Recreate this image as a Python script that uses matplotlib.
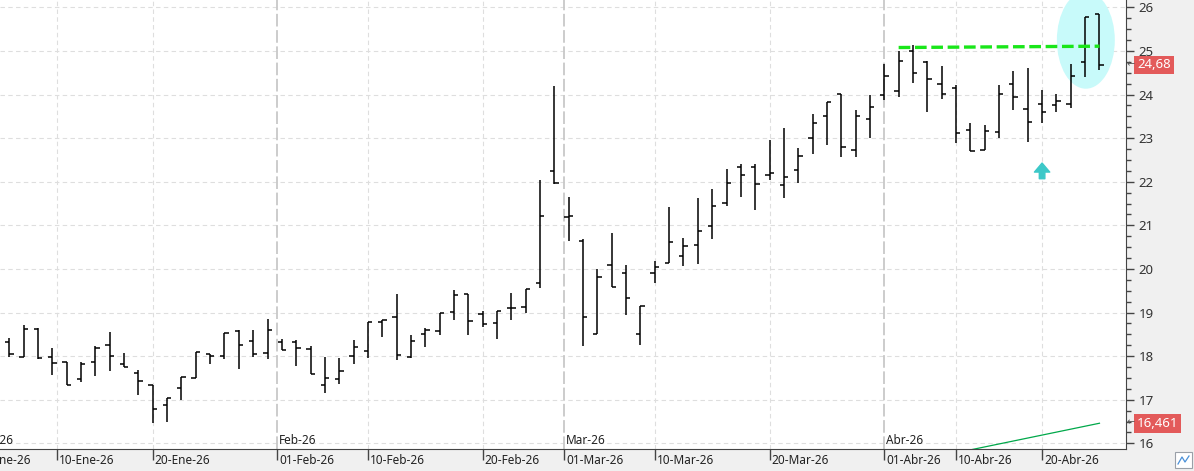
import numpy as np
import matplotlib
matplotlib.use("Agg")
import matplotlib.pyplot as plt
from matplotlib.patches import Ellipse, Rectangle
from matplotlib.lines import Line2D
import matplotlib.transforms as mtransforms

plt.rcParams['font.family'] = ['Noto Sans', 'DejaVu Sans']

# daily OHLC, one bar per trading day (06-Ene-26 .. 24-Abr-26)
opens = [18.32, 17.97, 18.62, 17.97, 17.87, 17.47, 17.87, 18.26, 17.81, 17.61,
         17.33, 16.89, 17.26, 17.49, 18.05, 18.00, 18.58, 18.34, 18.07, 18.32,
         18.33, 18.17, 17.33, 17.47, 18.00, 18.11, 18.78, 18.90, 17.98, 18.50,
         18.57, 19.01, 19.42, 18.96, 18.75, 19.11, 19.13, 19.68, 22.24, 21.20,
         20.64, 18.50, 20.09, 19.91, 18.50, 19.91, 20.14, 20.30, 20.55, 20.99,
         21.52, 22.35, 22.35, 22.15, 21.92, 22.26, 23.00, 23.50, 24.01, 22.73,
         23.45, 24.00, 24.09, 24.99, 24.74, 24.25, 24.14, 23.19, 22.73, 23.15,
         24.25, 23.68, 23.79, 23.75, 23.79, 24.75, 25.84]
highs = [18.42, 18.72, 18.64, 18.19, 17.87, 17.87, 18.23, 18.56, 18.07, 17.68,
         17.33, 17.05, 17.53, 18.10, 18.05, 18.52, 18.59, 18.60, 18.85, 18.39,
         18.37, 18.23, 17.98, 17.95, 18.37, 18.78, 18.83, 19.42, 18.48, 18.64,
         18.98, 19.52, 19.42, 19.04, 19.03, 19.45, 19.53, 22.05, 24.20, 21.65,
         20.69, 20.01, 20.82, 20.10, 19.15, 20.19, 21.42, 20.72, 21.62, 21.83,
         22.29, 22.41, 22.40, 22.96, 23.23, 22.77, 23.55, 23.82, 24.01, 23.64,
         23.99, 24.70, 25.00, 25.14, 24.78, 24.65, 24.23, 23.35, 23.31, 24.23,
         24.55, 24.60, 24.10, 24.02, 24.70, 25.79, 25.84]
lows = [17.97, 17.97, 17.93, 17.57, 17.34, 17.41, 17.55, 17.67, 17.74, 17.11,
        16.47, 16.49, 16.99, 17.49, 17.81, 17.93, 17.71, 17.97, 17.94, 18.13,
        17.78, 17.58, 17.16, 17.35, 17.81, 17.95, 18.45, 17.92, 17.96, 18.22,
        18.49, 18.84, 18.49, 18.66, 18.40, 18.84, 18.98, 19.56, 21.96, 20.64,
        18.24, 18.50, 19.58, 18.95, 18.26, 19.67, 20.14, 20.06, 20.11, 20.68,
        21.45, 21.66, 21.36, 22.05, 21.63, 21.98, 22.64, 22.85, 22.57, 22.57,
        23.01, 23.88, 23.95, 24.27, 23.60, 23.90, 22.88, 22.71, 22.73, 23.00,
        23.65, 22.91, 23.34, 23.60, 23.69, 24.41, 24.56]
closes = [18.05, 18.63, 17.96, 17.84, 17.34, 17.82, 18.19, 18.00, 17.76, 17.43,
          16.79, 17.03, 17.52, 18.10, 18.00, 18.52, 18.25, 18.05, 18.59, 18.13,
          18.18, 17.58, 17.49, 17.67, 18.20, 18.78, 18.83, 18.02, 18.34, 18.59,
          18.98, 19.40, 18.80, 18.73, 19.03, 19.11, 19.53, 21.22, 21.98, 21.22,
          18.90, 19.82, 19.58, 19.34, 19.15, 20.05, 20.63, 20.53, 20.86, 21.45,
          21.98, 22.15, 21.94, 22.19, 22.12, 22.60, 23.35, 23.82, 22.79, 23.50,
          23.71, 24.42, 24.78, 24.49, 24.35, 24.02, 23.12, 22.71, 23.17, 24.02,
          23.95, 23.38, 23.61, 23.86, 24.42, 25.77, 24.68]

# date axis (positions in trading-day units, calendar-interpolated)
tick_pos = [-2.5, 3.33, 10, 18.67, 25, 33, 38.67, 45, 53, 61, 66, 72]
tick_labels = ['01-Ene-26', '10-Ene-26', '20-Ene-26', '01-Feb-26', '10-Feb-26',
               '20-Feb-26', '01-Mar-26', '10-Mar-26', '20-Mar-26', '01-Abr-26',
               '10-Abr-26', '20-Abr-26']
month_pos = [-2.5, 18.67, 38.67, 61]
month_labels = ['Ene-26', 'Feb-26', 'Mar-26', 'Abr-26']

# drawings
resist_x = [62, 76]
resist_y = [25.08, 25.11]
trend_x = [67, 76]
trend_y = [15.85, 16.461]
signal_bar = 72
signal_from, signal_to = 22.07, 22.43
last_close = 24.68
trend_last = 16.461

W, H = 1194, 471
fig = plt.figure(figsize=(W / 100, H / 100), dpi=100, facecolor='#f0f0f0')
ax = fig.add_axes([0, 22 / H, 1126 / W, 449 / H])
ax.set_facecolor('white')

x = np.arange(len(opens))
tw = 0.3
ax.vlines(x, lows, highs, color='black', lw=1.1, zorder=3)
ax.hlines(opens, x - tw, x, color='black', lw=1.1, zorder=3)
ax.hlines(closes, x, x + tw, color='black', lw=1.1, zorder=3)

# grid
for p in range(16, 27):
    ax.axhline(p, color='#dedede', lw=0.8, ls=(0, (4, 3)), zorder=0)
for p in tick_pos:
    if p in month_pos:
        ax.axvline(p, color='#c8c8c8', lw=1.3, ls=(0, (7, 2)), zorder=0)
    else:
        ax.axvline(p, color='#dedede', lw=0.8, ls=(0, (4, 3)), zorder=0)

# highlight ellipse, resistance, trendline, signal arrow
ax.add_patch(Ellipse((75.05, 25.25), 4.04, 2.23, facecolor='#c8fafa',
                     edgecolor='none', zorder=1))
ax.plot(resist_x, resist_y, color='#19e619', lw=2.4, ls=(0, (3.5, 1.4)), zorder=4)
ax.plot(trend_x, trend_y, color='#00a84a', lw=0.9, zorder=4)
ax.annotate('', xy=(signal_bar, signal_to), xytext=(signal_bar, signal_from),
            arrowprops=dict(arrowstyle='simple,head_width=1.1,head_length=0.65,tail_width=0.4',
                            color='#3cc8c8', shrinkA=0, shrinkB=0, mutation_scale=10),
            zorder=5)

# axes look
for s in ['top', 'left']:
    ax.spines[s].set_visible(False)
ax.spines['bottom'].set_color('#444444')
ax.spines['right'].set_color('#444444')
ax.yaxis.tick_right()
ax.set_yticks(range(16, 27))
ax.set_yticks(np.arange(15.75, 26.2, 0.25), minor=True)
ax.tick_params(axis='y', which='major', length=6, width=1, color='#444444',
               labelcolor='#333333', labelsize=9.5, pad=3)
ax.tick_params(axis='y', which='minor', length=3.5, width=1, color='#444444')
ax.set_xticks(tick_pos)
ax.set_xticklabels([])
ax.tick_params(axis='x', length=8, width=1, color='#444444')

ax.set_xlim(-0.65, 77.85)
ax.set_ylim(15.87, 26.17)

off = lambda dx, dy: mtransforms.ScaledTranslation(dx / 100, dy / 100, fig.dpi_scale_trans)
bt = ax.get_xaxis_transform()
for p, lab in zip(tick_pos, tick_labels):
    ax.text(p, 0, lab, transform=bt + off(2, -12), ha='left', va='center',
            fontsize=8.5, color='#222222', clip_on=False)
for p, lab in zip(month_pos, month_labels):
    ax.text(p, 0, lab, transform=bt + off(2, 8), ha='left', va='center',
            fontsize=8.5, color='#222222', clip_on=False)

# price tags on the right axis
yt = ax.get_yaxis_transform()
for val, txt in [(last_close, '24,68'), (trend_last, '16,461')]:
    ax.text(1, val, txt, transform=yt + off(11, 0), ha='left', va='center',
            fontsize=9.5, color='white', clip_on=False,
            bbox=dict(boxstyle='square,pad=0.22', fc='#e35a5a', ec='none'))
    ax.text(1, val, '←', transform=yt + off(1, 0), ha='left', va='center',
            fontsize=7, color='#555555', clip_on=False)

# small icon bottom right
fig.patches.append(Rectangle((1175 / W, 3 / H), 17 / W, 16 / H, transform=fig.transFigure,
                             facecolor='white', edgecolor='#9aa0a8', lw=0.8))
fig.lines.append(Line2D(np.array([1178, 1182, 1185, 1189]) / W,
                        np.array([7, 14, 9, 15]) / H, transform=fig.transFigure,
                        color='#4a90d9', lw=0.9))

fig.savefig('out.png', dpi=100, facecolor=fig.get_facecolor())
